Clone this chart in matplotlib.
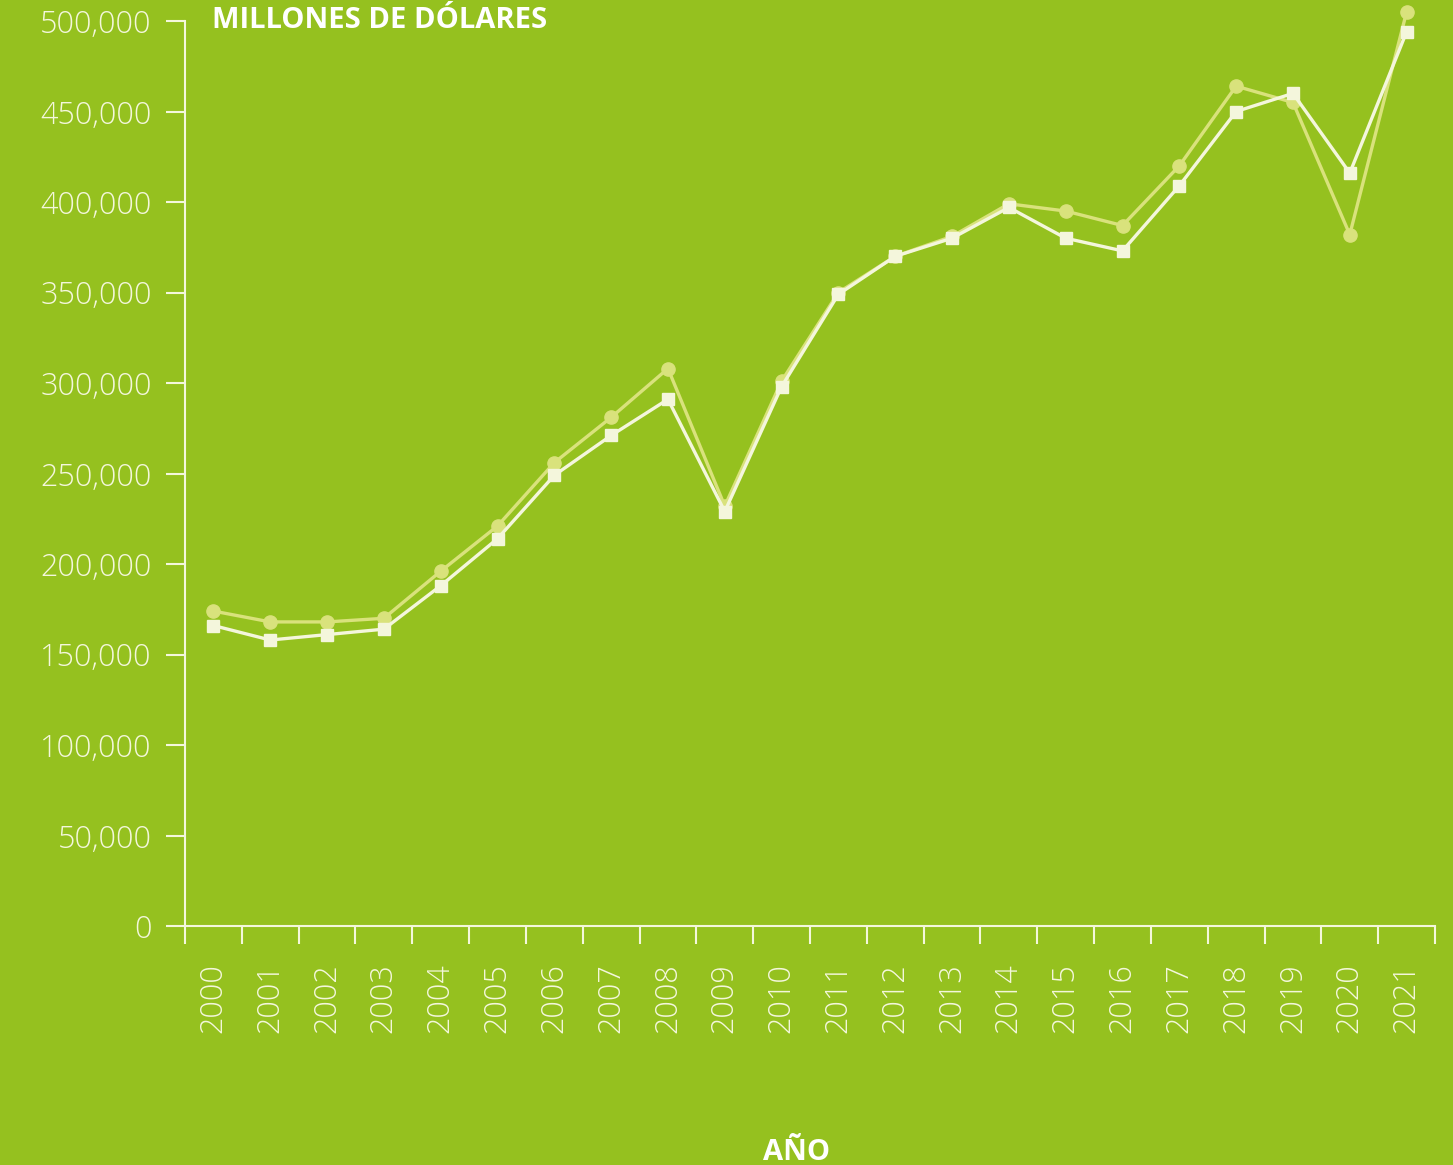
import matplotlib.pyplot as plt
from matplotlib.ticker import FuncFormatter, FixedLocator

years = [str(y) for y in range(2000, 2022)]

# circle series (yellowish)
serie_a = [174000, 168000, 168000, 170000, 196000, 221000, 256000, 281000, 308000, 232000,
           301000, 350000, 370000, 381000, 399000, 395000, 387000, 420000, 464000, 455000,
           382000, 505000]
# square series (whitish)
serie_b = [166000, 158000, 161000, 164000, 188000, 214000, 249000, 271000, 291000, 229000,
           298000, 349000, 370000, 380000, 397000, 380000, 373000, 409000, 450000, 460000,
           416000, 494000]

bg = "#95c11f"
fg = "#f4f7dc"
col_a = "#d9e27c"
col_b = "#f4f6dc"

plt.rcParams["font.family"] = ["Open Sans", "DejaVu Sans"]

fig = plt.figure(figsize=(14.53, 11.65), dpi=100, facecolor=bg)
ax = fig.add_axes([185 / 1453, 1 - 926 / 1165, 1250 / 1453, 905 / 1165])
ax.set_facecolor(bg)

x = list(range(len(years)))
ax.plot(x, serie_a, color=col_a, lw=2.4, marker="o", ms=9.5, mec=col_a, mfc=col_a,
        zorder=3, clip_on=False)
ax.plot(x, serie_b, color=col_b, lw=2.4, marker="s", ms=9, mec=col_b, mfc=col_b,
        zorder=4, clip_on=False)

ax.set_xlim(-0.5, len(years) - 0.5)
ax.set_ylim(0, 500000)
ax.set_yticks(range(0, 500001, 50000))
ax.yaxis.set_major_formatter(FuncFormatter(lambda v, p: f"{int(v):,}"))

# category labels at centers, ticks at boundaries
ax.set_xticks(x)
ax.set_xticklabels(years, rotation=90, fontsize=22, color=fg, fontweight="light")
ax.tick_params(axis="x", which="major", length=0, pad=27)
ax.xaxis.set_minor_locator(FixedLocator([i - 0.5 for i in range(len(years) + 1)]))
ax.tick_params(axis="x", which="minor", length=13, width=1.5, color=fg)
ax.tick_params(axis="y", length=14, width=1.5, color=fg, labelcolor=fg, labelsize=22, pad=10)
for lab in ax.get_yticklabels():
    lab.set_fontweight("light")

for s in ["top", "right"]:
    ax.spines[s].set_visible(False)
for s in ["left", "bottom"]:
    ax.spines[s].set_color(fg)
    ax.spines[s].set_linewidth(1.5)

ax.text(27 / 1250, 1.0, "MILLONES DE DÓLARES", transform=ax.transAxes, ha="left", va="center",
        fontsize=21, fontweight="bold", color="white")
fig.text(797 / 1453, 1 - 1152 / 1165, "AÑO", ha="center", va="center",
         fontsize=21, fontweight="bold", color="white")

fig.savefig("out.png", dpi=100, facecolor=bg)
